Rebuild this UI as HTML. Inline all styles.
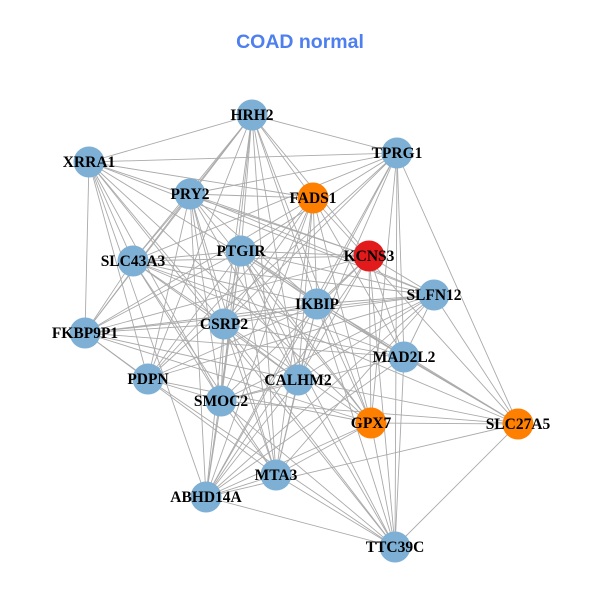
<!DOCTYPE html>
<html><head><meta charset="utf-8"><style>
html,body{margin:0;padding:0;background:#fff;width:600px;height:600px;overflow:hidden}
svg{display:block}
</style></head><body>
<svg id="g" width="600" height="600" viewBox="0 0 600 600" xmlns="http://www.w3.org/2000/svg">
<text x="300" y="48" text-anchor="middle" font-family="Liberation Sans, sans-serif" font-weight="bold" font-size="19.5" fill="#4d7fef">COAD normal</text>
<g id="e" stroke="#aaaaaa" stroke-width="0.9"></g>
<g id="n"></g>
</svg>
<script>
var N=[["HRH2",252,115,"#7eb0d5"],["TPRG1",397,153,"#7eb0d5"],["XRRA1",89,162,"#7eb0d5"],["PRY2",190,194,"#7eb0d5"],["FADS1",313,198,"#ff7f00"],["KCNS3",369,256,"#e31a1c"],["SLC43A3",133,261,"#7eb0d5"],["PTGIR",241,251,"#7eb0d5"],["SLFN12",434,295,"#7eb0d5"],["IKBIP",317,304,"#7eb0d5"],["FKBP9P1",85,333,"#7eb0d5"],["CSRP2",224,324,"#7eb0d5"],["MAD2L2",404,357,"#7eb0d5"],["PDPN",148,379,"#7eb0d5"],["CALHM2",298,380,"#7eb0d5"],["SMOC2",221,401,"#7eb0d5"],["GPX7",371,423,"#ff7f00"],["SLC27A5",518,424,"#ff7f00"],["MTA3",276,475,"#7eb0d5"],["ABHD14A",206,497,"#7eb0d5"],["TTC39C",395,547,"#7eb0d5"]];
var ns="http://www.w3.org/2000/svg",E=document.getElementById("e"),G=document.getElementById("n");
var s=7;function r(){s=(s*9301+49297)%233280;return s/233280;}
for(var i=0;i<N.length;i++)for(var j=i+1;j<N.length;j++){
 var dx=N[i][1]-N[j][1],dy=N[i][2]-N[j][2],d=Math.sqrt(dx*dx+dy*dy);
 var p=d>330?0.35:0.75;
 if(r()<p){var l=document.createElementNS(ns,"line");l.setAttribute("x1",N[i][1]);l.setAttribute("y1",N[i][2]);l.setAttribute("x2",N[j][1]);l.setAttribute("y2",N[j][2]);E.appendChild(l);}
}
N.forEach(function(a){var c=document.createElementNS(ns,"circle");c.setAttribute("cx",a[1]);c.setAttribute("cy",a[2]);c.setAttribute("r",15.5);c.setAttribute("fill",a[3]);G.appendChild(c);});
N.forEach(function(a){var t=document.createElementNS(ns,"text");t.setAttribute("x",a[1]);t.setAttribute("y",a[2]+5);t.setAttribute("text-anchor","middle");t.setAttribute("font-family","Liberation Serif, serif");t.setAttribute("font-weight","bold");t.setAttribute("font-size","15.5");t.textContent=a[0];G.appendChild(t);});
</script>
</body></html>
